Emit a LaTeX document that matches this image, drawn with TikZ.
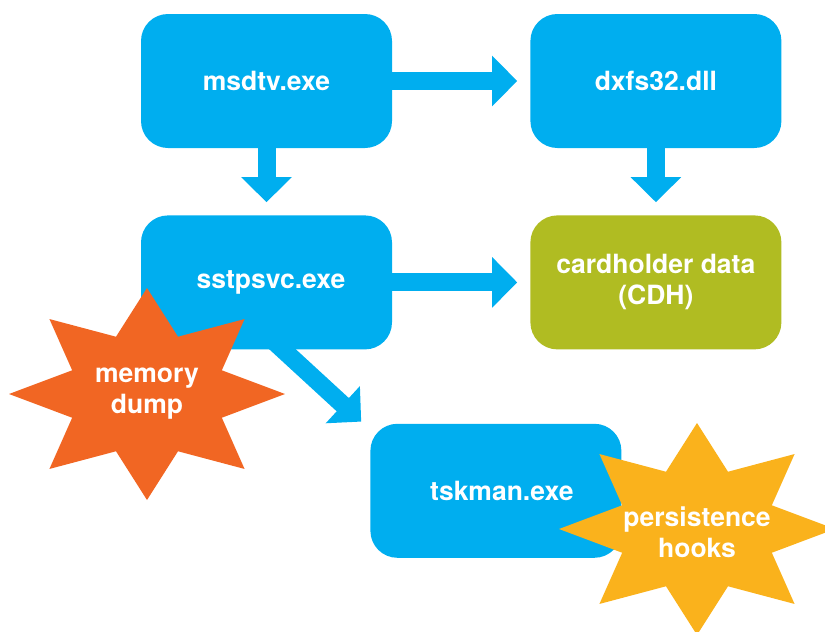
\documentclass[tikz,border=0pt]{standalone}
\usepackage{fontspec}
\setmainfont{TeX Gyre Heros}
\usetikzlibrary{positioning,arrows.meta}

\definecolor{procblue}{RGB}{0,174,239}
\definecolor{datagreen}{RGB}{176,188,34}
\definecolor{dumporange}{RGB}{241,102,35}
\definecolor{hookyellow}{RGB}{250,178,28}

\tikzset{
	proc/.style={fill=procblue,text=white,rounded corners=27pt,
		minimum width=251pt,minimum height=134pt,align=center,
		font=\fontsize{26.5}{31}\selectfont\bfseries},
	flow/.style={draw=procblue,line width=18pt,
		-{Triangle[width=49pt,length=25pt]},shorten >=13pt},
	burstlabel/.style={text=white,align=center,
		font=\fontsize{26.5}{31}\selectfont\bfseries}
}

\begin{document}
\begin{tikzpicture}[x=1pt,y=1pt]
	\useasboundingbox (0,0) rectangle (825,-632);
	\clip (0,0) rectangle (825,-632);

	\node[proc] (msdtv) at (266.5,-81) {msdtv.exe};
	\node[proc,right=138pt of msdtv] (dxfs) {dxfs32.dll};
	\node[proc,below=67pt of msdtv] (sstpsvc) {\hspace*{9pt}sstpsvc.exe};
	\node[proc,fill=datagreen,right=138pt of sstpsvc] (cdh) {cardholder data\\(CDH)};
	\node[proc,anchor=north west] (tskman)
		at ([shift={(-22pt,-74pt)}]sstpsvc.south east) {\hspace*{12pt}tskman.exe};
	\coordinate (tskentry) at ([shift={(-9pt,2pt)}]tskman.north west);

	\draw[flow] (msdtv.east) -- (dxfs.west);
	\draw[flow] (msdtv.south) -- (sstpsvc.north);
	\draw[flow] (dxfs.south) -- (cdh.north);
	\draw[flow] (sstpsvc.east) -- (cdh.west);
	\draw[flow,shorten >=0pt] ([shift={(5.5pt,10pt)}]sstpsvc.south) -- (tskentry);

	% bursts
	\fill[dumporange,shift={(147,-394)}] (0:138pt and 106pt)
		\foreach \a in {0,45,...,315}{ -- (\a+22.5:81pt and 62pt) -- (\a+45:138pt and 106pt)} -- cycle;
	\node[burstlabel] (dump) at (147,-394) {memory\\dump};

	\fill[hookyellow,shift={(697,-529)}] (0:138pt and 106pt)
		\foreach \a in {0,45,...,315}{ -- (\a+22.5:81pt and 62pt) -- (\a+45:138pt and 106pt)} -- cycle;
	\node[burstlabel] (hooks) at (697,-532) {persistence\\hooks};
\end{tikzpicture}
\end{document}
